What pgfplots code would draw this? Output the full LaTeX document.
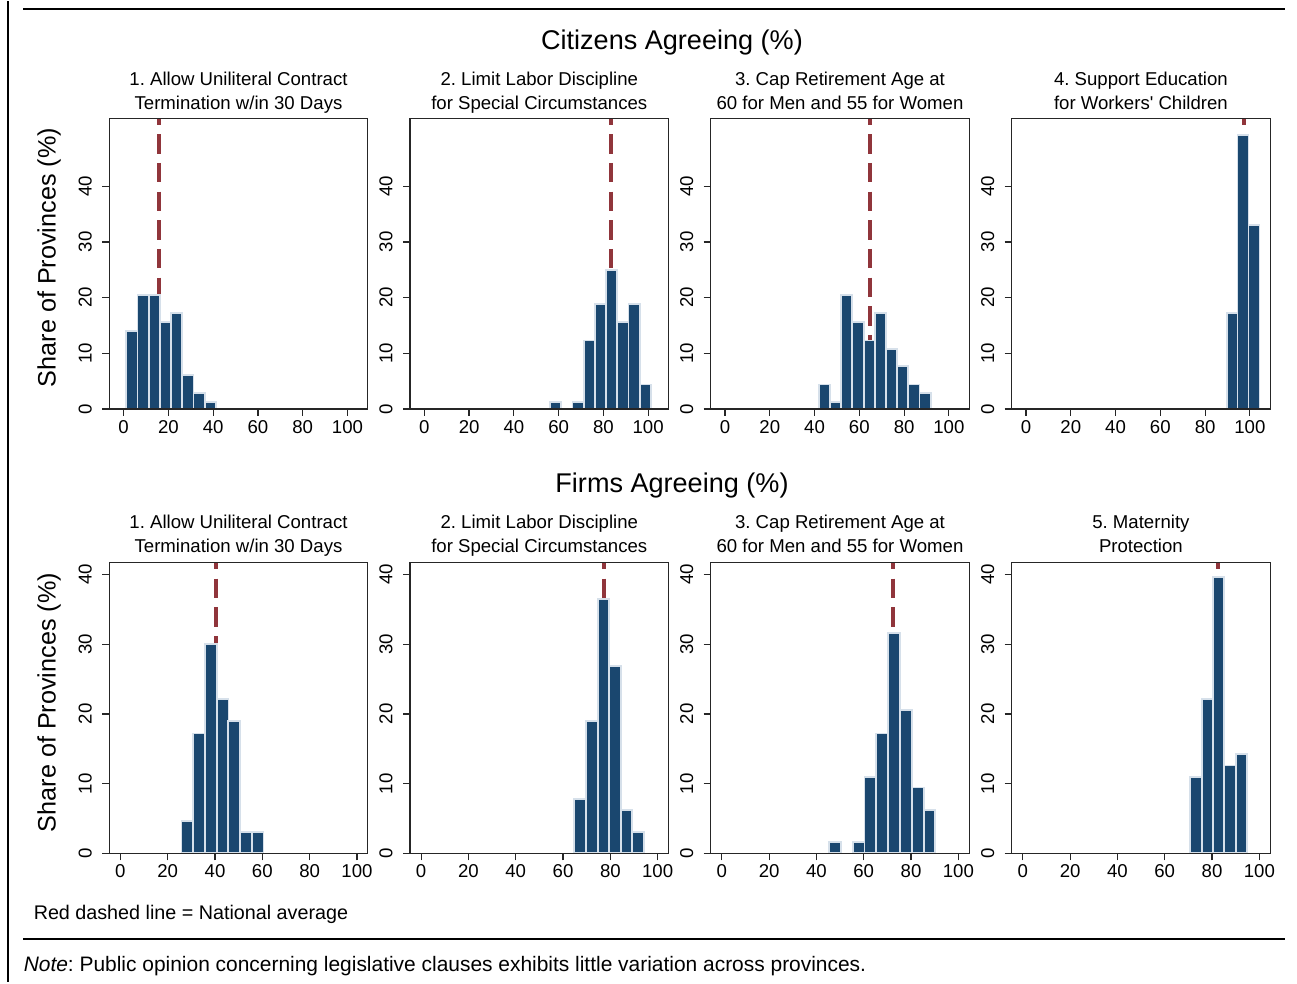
\documentclass[border=0pt]{standalone}
\usepackage{fontspec}
\setmainfont{Liberation Sans}
\usepackage{pgfplots}
\pgfplotsset{compat=1.18}
\frenchspacing

\definecolor{navyc}{RGB}{26,71,111}
\definecolor{barline}{RGB}{214,224,234}
\definecolor{cranb}{RGB}{144,53,59}

\pgfplotsset{
  hist/.style={
    scale only axis, width=193.9pt, height=218pt, anchor=north west,
    axis line style={line width=0.9pt, black!85},
    major tick style={line width=0.9pt, black!85},
    tick align=outside, major tick length=5.25pt,
    xtick={0,20,...,100}, xtick pos=left, ytick pos=left,
    ymin=0, axis on top, clip=true,
    tick label style={font=\fontsize{13.95}{16}\selectfont, inner sep=0pt},
    xticklabel style={anchor=north},
    yticklabel style={rotate=90, anchor=south},
    xticklabel shift=3.2pt, yticklabel shift=7.6pt,
    /pgf/number format/assume math mode=true,
  },
  top/.style={hist, xmin=-6.4, xmax=109.1, ymax=52.2, ytick={0,10,...,40}},
  bot/.style={hist, xmin=-4.7, xmax=104.6, ymax=41.7, ytick={0,10,...,40}},
  bars/.style={ybar, bar shift=0pt, bar width=#1, fill=navyc, draw=barline, line width=1.4pt},
  avg/.style={cranb, line width=3pt, dash pattern=on 14.5pt off 7pt, dash phase=9.5pt},
}

\begin{document}
\begin{tikzpicture}

% ---- Citizens ----
\begin{axis}[top, at={(81.975pt,-87.975pt)}]
\addplot[avg] coordinates {(15.7,52.2) (15.7,0)};
\addplot[bars=5] coordinates {(3.7,14) (8.7,20.4) (13.7,20.4) (18.7,15.6) (23.7,17.2) (28.7,6.1) (33.7,2.8) (38.7,1.2)};
\end{axis}

\begin{axis}[top, at={(307.5pt,-87.975pt)}]
\addplot[avg] coordinates {(83.4,52.2) (83.4,0)};
\addplot[bars=5] coordinates {(58.7,1.2) (68.7,1.2) (73.7,12.3) (78.7,18.9) (83.7,25.0) (88.7,15.6) (93.7,18.9) (98.7,4.4)};
\end{axis}

\begin{axis}[top, at={(533.025pt,-87.975pt)}]
\addplot[avg] coordinates {(64.6,52.2) (64.6,0)};
\addplot[bars=5] coordinates {(44.4,4.4) (49.4,1.2) (54.4,20.4) (59.4,15.6) (64.4,12.3) (69.4,17.2) (74.4,10.8) (79.4,7.7) (84.4,4.4) (89.4,2.8)};
\end{axis}

\begin{axis}[top, at={(758.775pt,-87.975pt)}]
\addplot[avg] coordinates {(97.2,52.2) (97.2,0)};
\addplot[bars=4.9] coordinates {(92.05,17.2) (96.95,49.2) (101.85,33.1)};
\end{axis}

% ---- Firms ----
\begin{axis}[bot, at={(81.975pt,-421.275pt)}]
\addplot[avg] coordinates {(40.3,41.7) (40.3,0)};
\addplot[bars=4.95] coordinates {(28.3,4.7) (33.3,17.2) (38.2,30.0) (43.2,22.1) (48.1,19.0) (53.1,3.1) (58.0,3.1)};
\end{axis}

\begin{axis}[bot, at={(307.5pt,-421.275pt)}]
\addplot[avg] coordinates {(77.5,41.7) (77.5,0)};
\addplot[bars=4.9] coordinates {(67.25,7.8) (72.15,19.0) (77.05,36.5) (81.95,26.9) (86.85,6.2) (91.75,3.1)};
\end{axis}

\begin{axis}[bot, at={(533.025pt,-421.275pt)}]
\addplot[avg] coordinates {(72.5,41.7) (72.5,0)};
\addplot[bars=5] coordinates {(47.8,1.6) (57.8,1.6) (62.8,11.0) (67.8,17.2) (72.8,31.6) (77.8,20.6) (82.8,9.45) (87.8,6.25)};
\end{axis}

\begin{axis}[bot, at={(758.775pt,-421.275pt)}]
\addplot[avg] coordinates {(82.4,41.7) (82.4,0)};
\addplot[bars=4.85] coordinates {(73.1,11.0) (78.0,22.1) (82.8,39.6) (87.7,12.6) (92.5,14.2)};
\end{axis}

\begin{scope}[x=0.75pt, y=-0.75pt, inner sep=0pt]
\path (0,0) rectangle (1297,981);
\draw[line width=1.5pt] (8,0) -- (8,981);
\draw[line width=1.5pt] (23,7.5) -- (1285,7.5);
\draw[line width=1.5pt] (23,938.3) -- (1285,938.3);

\node[anchor=base, font=\fontsize{20.3}{24}\selectfont] at (672,48) {Citizens Agreeing (\%)};
\node[anchor=base, font=\fontsize{20.3}{24}\selectfont] at (672,491) {Firms Agreeing (\%)};

\begin{scope}[every node/.style={anchor=base, font=\fontsize{13.95}{16}\selectfont}]
\node at (238.5,84) {1. Allow Uniliteral Contract};
\node at (238.5,108) {Termination w/in 30 Days};
\node at (539.3,84) {2. Limit Labor Discipline};
\node at (539.3,108) {for Special Circumstances};
\node at (840,84) {3. Cap Retirement Age at};
\node at (840,108) {60 for Men and 55 for Women};
\node at (1140.9,84) {4. Support Education};
\node at (1140.9,108) {for Workers\textquotesingle\ Children};

\node at (238.5,527) {1. Allow Uniliteral Contract};
\node at (238.5,551) {Termination w/in 30 Days};
\node at (539.3,527) {2. Limit Labor Discipline};
\node at (539.3,551) {for Special Circumstances};
\node at (840,527) {3. Cap Retirement Age at};
\node at (840,551) {60 for Men and 55 for Women};
\node at (1140.9,527) {5. Maternity};
\node at (1140.9,551) {Protection};
\end{scope}

\node[rotate=90, anchor=base, font=\fontsize{18.9}{22}\selectfont] at (55.7,256.5) {Share of Provinces (\%)};
\node[rotate=90, anchor=base, font=\fontsize{18.9}{22}\selectfont] at (55.7,701.5) {Share of Provinces (\%)};

\node[anchor=base west, font=\fontsize{14.8}{17}\selectfont] at (33.5,918.5) {Red dashed line = National average};
\node[anchor=base west, font=\fontsize{15.7}{18}\selectfont] at (23.5,970.7) {\textit{Note}: Public opinion concerning legislative clauses exhibits little variation across provinces.};
\end{scope}

\end{tikzpicture}
\end{document}
